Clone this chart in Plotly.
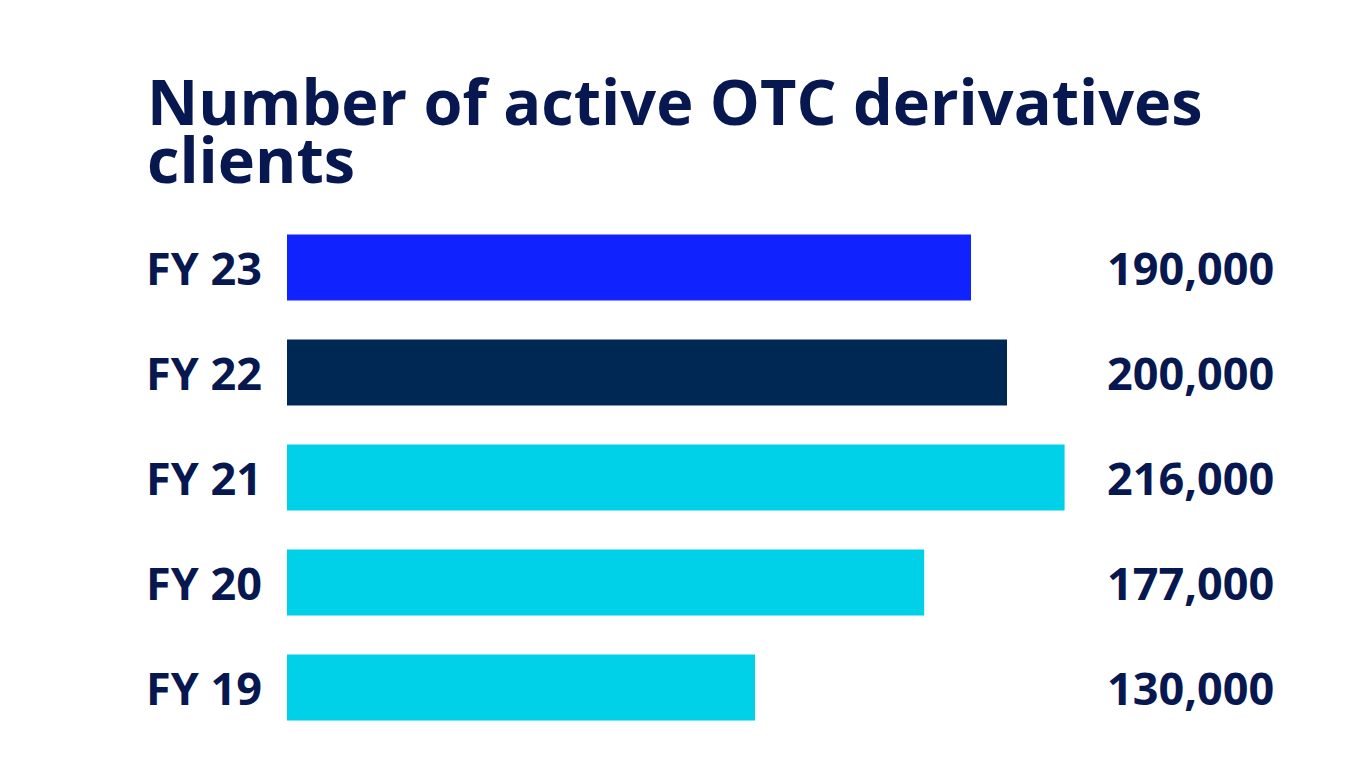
import plotly.graph_objects as go

categories = ["FY 19", "FY 20", "FY 21", "FY 22", "FY 23"]
values = [130000, 177000, 216000, 200000, 190000]
value_labels = ["130,000", "177,000", "216,000", "200,000", "190,000"]
colors = ["#00d0e8", "#00d0e8", "#00d0e8", "#002855", "#1023ff"]
title_lines = ["Number of active OTC derivatives", "clients"]

TXT = "#07174f"
FONT = "Open Sans"

fig = go.Figure(go.Bar(
    y=categories, x=values, orientation="h",
    marker=dict(color=colors, line=dict(width=0)),
    hoverinfo="skip",
))

W, H = 1367, 780
ml, mr, mt, mb = 287, 95, 215, 40
plot_w = W - ml - mr
plot_h = H - mt - mb

annotations = []
for c, lab in zip(categories, value_labels):
    annotations.append(dict(
        x=1 + 4 / plot_w, xref="paper", y=c, yref="y", text=lab, showarrow=False,
        xanchor="right", yanchor="middle",
        font=dict(family=FONT, size=45, color=TXT, weight="bold"),
    ))
    annotations.append(dict(
        x=(144 - ml) / plot_w, xref="paper", y=c, yref="y", text=c, showarrow=False,
        xanchor="left", yanchor="middle",
        font=dict(family=FONT, size=45, color=TXT, weight="bold"),
    ))

# title lines, positioned by their vertical centres (in pixels from top)
for line, cy in zip(title_lines, [100, 158]):
    annotations.append(dict(
        x=(145 - ml) / plot_w, xref="paper",
        y=1 + (mt - cy) / plot_h, yref="paper",
        text=line, showarrow=False, xanchor="left", yanchor="middle",
        height=56, valign="middle",
        font=dict(family=FONT, size=63, color=TXT, weight="bold"),
    ))

fig.update_layout(
    width=W, height=H,
    margin=dict(l=ml, r=mr, t=mt, b=mb),
    paper_bgcolor="white", plot_bgcolor="white",
    bargap=0.37,
    showlegend=False,
    xaxis=dict(range=[0, plot_w / 3.6 * 1000], visible=False, fixedrange=True),
    yaxis=dict(range=[-0.5, 4.5], visible=False, fixedrange=True),
    annotations=annotations,
)

fig.write_html("out.html", post_script="document.body.style.margin='0';",
               config={"displayModeBar": False})
